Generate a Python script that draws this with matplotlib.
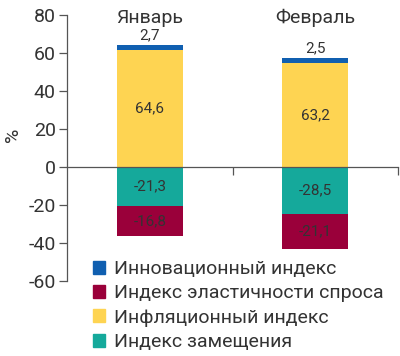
import matplotlib
matplotlib.use("Agg")
import matplotlib.pyplot as plt
from matplotlib.patches import Patch

plt.rcParams['font.family'] = ['Roboto', 'DejaVu Sans']

categories = ["Январь", "Февраль"]
# bar heights as drawn in the picture
innovation = [2.5, 2.3]
inflation = [61.6, 54.9]
substitution = [-20.4, -24.7]
elasticity = [-15.9, -18.5]
# printed value labels
innovation_lbl = ["2,7", "2,5"]
inflation_lbl = ["64,6", "63,2"]
substitution_lbl = ["-21,3", "-28,5"]
elasticity_lbl = ["-16,8", "-21,1"]
series_names = ["Инновационный индекс", "Индекс эластичности спроса",
                "Инфляционный индекс", "Индекс замещения"]
yticks = [-60, -40, -20, 0, 20, 40, 60, 80]

c_blue = "#105fb0"
c_red = "#9a003a"
c_yellow = "#fed452"
c_teal = "#15a99b"
txt = "#333333"
axc = "#555555"

fig = plt.figure(figsize=(4.0, 3.56), dpi=100)
ax = fig.add_axes([0.1675, 0.2107, 0.8275, 0.7473])

x = list(range(len(categories)))
w = 0.4
ax.bar(x, inflation, w, color=c_yellow)
ax.bar(x, innovation, w, bottom=inflation, color=c_blue)
ax.bar(x, substitution, w, color=c_teal)
ax.bar(x, elasticity, w, bottom=substitution, color=c_red)

vfs = 11
for i in x:
    ax.text(i, inflation[i] / 2, inflation_lbl[i], ha='center', va='center', fontsize=vfs, color=txt)
    ax.text(i, inflation[i] + innovation[i] + 5, innovation_lbl[i], ha='center', va='center', fontsize=vfs, color=txt)
    ax.text(i, substitution[i] / 2, substitution_lbl[i], ha='center', va='center', fontsize=vfs, color=txt)
    ax.text(i, substitution[i] + elasticity[i] / 2, elasticity_lbl[i], ha='center', va='center', fontsize=vfs, color=txt)
    ax.text(i, 78.5, categories[i], ha='center', va='center', fontsize=14, color=txt)

ax.set_xlim(-0.5, 1.5)
ax.set_ylim(-60, 80)
ax.set_yticks(yticks)
ax.set_yticklabels([str(v) for v in yticks], fontsize=14, color=txt)
ax.set_xticks([0.5, 1.5])
ax.set_xticklabels([])
ax.spines['top'].set_visible(False)
ax.spines['right'].set_visible(False)
ax.spines['bottom'].set_position(('data', 0))
for s in ('left', 'bottom'):
    ax.spines[s].set_color(axc)
    ax.spines[s].set_linewidth(0.9)
ax.tick_params(axis='y', direction='out', length=6, width=0.9, color=axc, pad=2)
ax.tick_params(axis='x', direction='out', length=6, width=0.9, color=axc)
ax.set_ylabel("%", fontsize=14, color=txt)
ax.yaxis.set_label_coords(-0.135, 0.55)

handles = [Patch(color=c) for c in (c_blue, c_red, c_yellow, c_teal)]
fig.legend(handles, series_names, loc='upper left', bbox_to_anchor=(0.232, 0.27),
           frameon=False, fontsize=14, handlelength=0.65, handleheight=0.65,
           handletextpad=0.45, labelspacing=0.33, borderpad=0, borderaxespad=0,
           labelcolor=txt)

fig.savefig("out.png", dpi=100)
